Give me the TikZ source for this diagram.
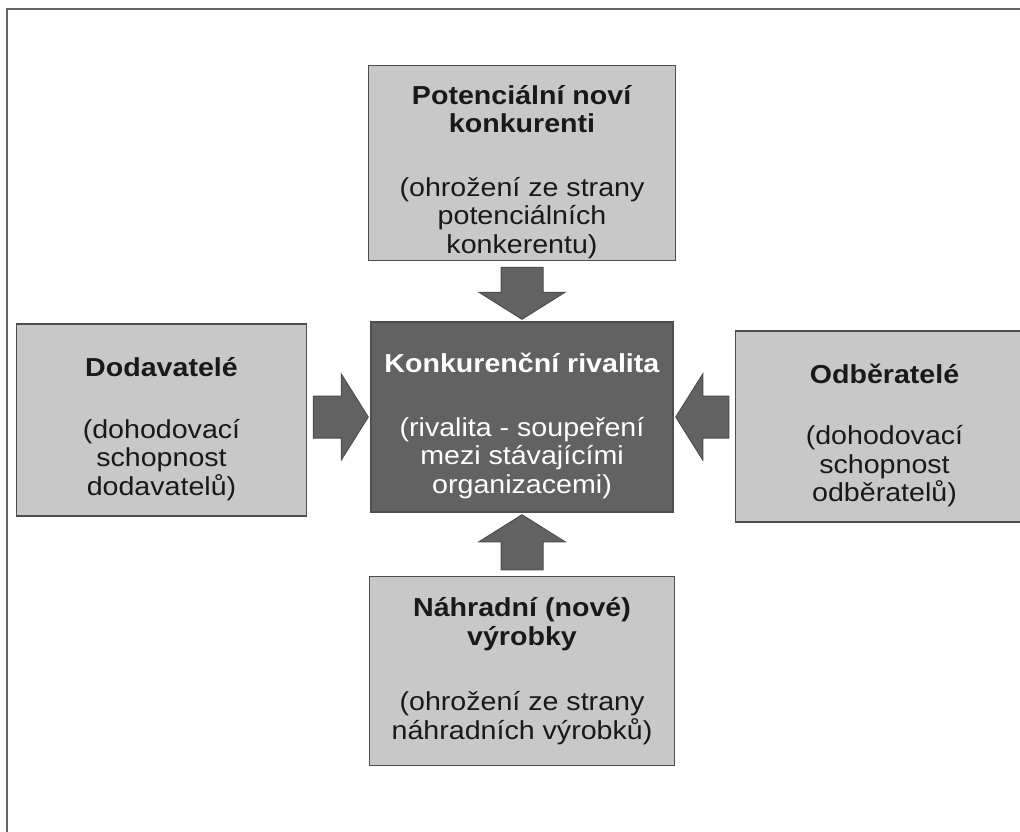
\documentclass[tikz,border=0pt]{standalone}
\usepackage{fontspec}
\setmainfont{Liberation Sans}[FakeStretch=1.1]
\usetikzlibrary{positioning, calc}
\definecolor{boxgray}{RGB}{200,200,200}
\definecolor{darkbox}{RGB}{98,98,98}
\definecolor{edgegray}{RGB}{78,78,78}
\definecolor{framegray}{RGB}{100,100,100}
\newcommand{\downstrut}{\rule{0pt}{37pt}}
\tikzset{
  force/.style={rectangle, draw=edgegray, line width=1.5pt, fill=boxgray, align=center, inner sep=0pt, text=black!90, font=\fontsize{26}{28.5}\selectfont},
  rival/.style={force, fill=darkbox, text=white},
  pusharrow/.style={draw=edgegray, fill=darkbox, line width=1pt, line join=miter,
    to path={($(\tikztostart)!6pt!(\tikztotarget)!21pt!90:(\tikztotarget)$)
      -- ($(\tikztotarget)!29pt!(\tikztostart)!21pt!90:(\tikztotarget)$)
      -- ($(\tikztotarget)!29pt!(\tikztostart)!43pt!90:(\tikztotarget)$)
      -- ($(\tikztotarget)!2pt!(\tikztostart)$)
      -- ($(\tikztotarget)!29pt!(\tikztostart)!43pt!-90:(\tikztotarget)$)
      -- ($(\tikztotarget)!29pt!(\tikztostart)!21pt!-90:(\tikztotarget)$)
      -- ($(\tikztostart)!6pt!(\tikztotarget)!21pt!-90:(\tikztotarget)$) -- cycle}}
}
\begin{document}
\begin{tikzpicture}[x=1pt, y=-1pt]
    \path[use as bounding box, clip] (0,0) rectangle (1020,832);
    \fill[white] (0,0) rectangle (1020,832);
    \draw[framegray, line width=2.5pt] (7,840) -- (7,9) -- (1030,9);
    \node (rivalita) [rival, minimum width=302pt, minimum height=190pt] at (522,417) {\downstrut\textbf{Konkurenční rivalita}\\[35pt](rivalita - soupeření\\mezi stávajícími\\organizacemi)};
    \node (novi) [force, above=60pt of rivalita, minimum width=307pt, minimum height=195pt] {\downstrut\textbf{Potenciální noví}\\\textbf{konkurenti}\\[35pt](ohrožení ze strany\\potenciálních\\konkerentu)};
    \node (dodavatele) [force, left=63pt of rivalita, yshift=-3pt, minimum width=290pt, minimum height=192pt] {\downstrut\textbf{Dodavatelé}\\[33pt](dohodovací\\schopnost\\dodavatelů)};
    \node (odberatele) [force, right=61pt of rivalita, yshift=-9.5pt, minimum width=298pt, minimum height=191pt] {\downstrut\textbf{Odběratelé}\\[33pt](dohodovací\\schopnost\\odběratelů)};
    \node (nahradni) [force, below=63pt of rivalita, minimum width=305pt, minimum height=189pt] {\textbf{Náhradní (nové)}\\\textbf{výrobky}\\[37pt](ohrožení ze strany\\náhradních výrobků)};
    \draw[pusharrow] (novi.south) to (rivalita.north);
    \draw[pusharrow] (nahradni.north) to (rivalita.south);
    \draw[pusharrow] (dodavatele.east |- rivalita.west) to (rivalita.west);
    \draw[pusharrow] (odberatele.west |- rivalita.east) to (rivalita.east);
\end{tikzpicture}
\end{document}
